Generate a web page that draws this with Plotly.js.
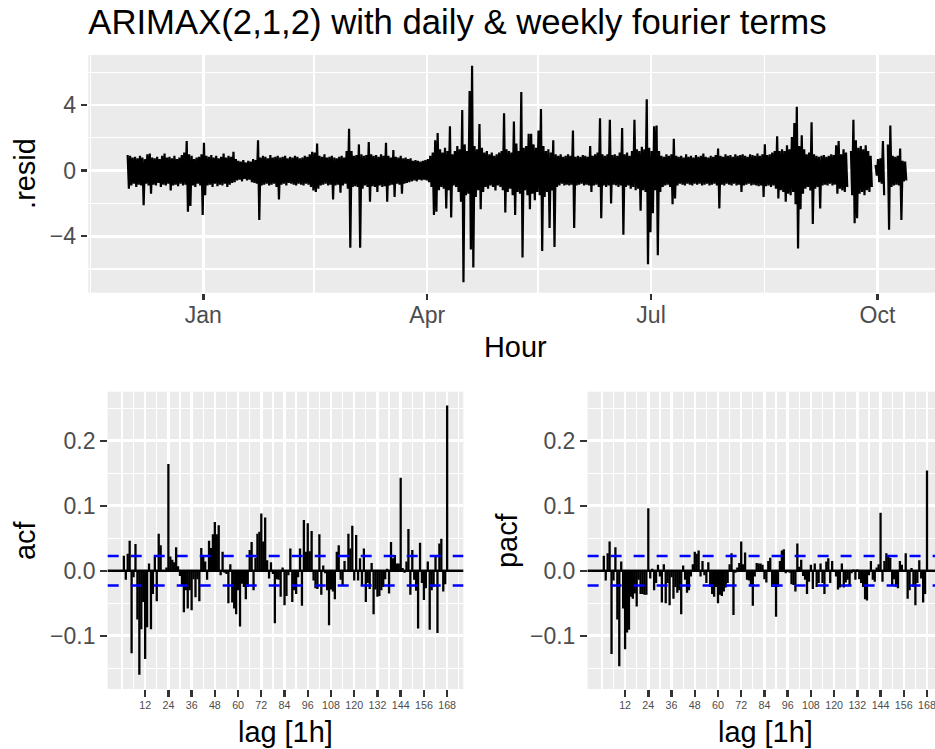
<!DOCTYPE html>
<html><head><meta charset="utf-8">
<script src="https://cdn.plot.ly/plotly-3.0.1.min.js"></script>
<style>html,body{margin:0;padding:0;background:#fff;} #chart{width:935px;height:749px;}</style>
</head><body><div id="chart"></div>
<script>
// ---------- DATA ----------
// Residuals: daily high / low envelope (hourly series), starting 2023-12-01
const residStart = [2023, 11, 1];
const decHigh = [0.95,0.9,0.8,0.85,0.75,0.9,0.8,0.7,1.0,1.05,0.8,0.75,0.85,0.7,0.9,1.05,0.8,0.85,0.75,0.9,0.7,0.8,0.95,1.1,1.8,1.0,0.9,0.7,0.8,0.85,1.0];
const decLow  = [-1.1,-0.9,-0.8,-1.0,-0.85,-0.9,-2.1,-0.8,-0.9,-1.4,-0.85,-0.9,-0.75,-1.0,-0.85,-0.9,-0.8,-1.2,-0.9,-0.85,-0.95,-0.8,-0.9,-0.85,-2.5,-2.15,-0.9,-1.0,-0.8,-0.9,-2.7];
const janHigh = [1.7,0.9,0.85,0.95,0.8,0.9,0.75,0.85,1.05,0.8,0.9,0.85,1.15,0.7,0.6,0.55,0.65,0.5,0.6,0.55,0.7,0.65,1.85,0.8,0.9,0.85,0.75,0.95,0.8,0.85,0.9];
const janLow  = [-1.5,-0.9,-0.85,-1.0,-0.8,-0.95,-0.85,-0.9,-0.8,-1.0,-0.85,-0.75,-0.7,-0.6,-0.55,-0.65,-0.5,-0.6,-0.55,-0.7,-0.75,-0.8,-3.0,-0.9,-0.85,-0.8,-0.9,-0.85,-0.8,-1.0,-1.75];
const febHigh = [0.8,0.85,0.9,0.75,0.85,0.8,0.9,0.85,0.75,0.8,0.9,0.85,1.0,1.15,1.1,1.65,0.9,0.85,1.0,0.8,0.85,0.9,0.8,0.75,0.85,0.9,0.8,1.2,2.55];
const febLow  = [-0.85,-0.8,-0.9,-0.75,-0.8,-0.85,-0.9,-0.8,-0.85,-0.9,-0.8,-0.85,-1.0,-1.2,-1.3,-1.1,-0.9,-0.85,-0.8,-0.9,-0.85,-1.75,-0.9,-0.85,-1.35,-0.9,-0.8,-1.1,-4.7];
const marHigh = [1.2,0.9,0.95,1.6,1.0,0.9,0.95,1.75,1.0,0.9,0.95,0.85,1.0,0.9,1.7,0.9,0.8,1.25,0.85,0.8,0.9,0.75,0.8,0.7,0.75,0.6,0.65,0.6,0.55,0.6,0.65];
const marLow  = [-1.0,-0.95,-1.0,-4.7,-1.1,-0.9,-1.0,-1.9,-0.95,-1.0,-1.3,-0.9,-1.0,-0.95,-1.9,-0.9,-0.85,-1.6,-0.8,-0.85,-1.4,-0.8,-0.75,-0.7,-0.65,-0.6,-0.65,-0.55,-0.6,-0.55,-0.6];
const aprHigh = [0.7,0.9,1.1,1.85,2.3,1.3,1.1,1.4,1.2,2.7,1.0,1.2,1.5,1.3,3.7,1.6,1.2,4.85,6.4,1.5,1.3,2.85,1.4,1.1,1.2,1.0,1.1,0.9,1.0,1.1];
const aprLow  = [-0.7,-1.0,-2.7,-2.5,-1.2,-1.0,-1.1,-2.3,-1.2,-2.85,-0.9,-1.0,-1.3,-1.9,-6.8,-1.5,-1.4,-4.8,-5.9,-1.6,-1.2,-2.35,-1.3,-1.0,-1.1,-0.9,-1.0,-1.2,-0.9,-1.0];
const mayHigh = [1.2,3.5,1.3,1.2,1.1,3.0,1.65,1.2,4.8,1.4,1.5,2.25,2.25,1.6,1.4,2.45,3.75,1.5,1.2,1.3,1.1,1.85,1.0,0.9,1.0,0.85,0.9,1.0,0.9,2.45,0.85];
const mayLow  = [-1.2,-2.55,-1.3,-1.1,-1.5,-2.7,-1.3,-1.4,-5.3,-1.2,-1.5,-2.35,-1.4,-1.8,-1.3,-1.5,-4.9,-1.6,-1.3,-3.5,-1.2,-4.65,-1.0,-0.9,-0.8,-0.9,-0.85,-0.9,-0.85,-3.5,-0.9];
const junHigh = [0.9,0.85,0.95,0.9,0.85,1.5,0.9,1.0,1.1,3.2,1.0,0.9,1.0,3.1,0.95,1.0,0.9,1.1,2.6,1.0,1.1,0.9,1.2,3.1,1.3,1.2,1.45,1.3,4.35,1.4];
const junLow  = [-0.85,-0.8,-0.9,-0.85,-0.9,-1.3,-0.9,-0.85,-1.0,-2.9,-0.9,-1.0,-0.9,-2.0,-0.85,-0.9,-1.0,-0.9,-3.9,-1.0,-0.9,-1.1,-1.0,-1.2,-1.1,-2.45,-1.2,-1.3,-5.7,-3.75];
const julHigh = [1.2,2.7,2.75,1.2,0.9,0.85,1.0,0.9,1.0,1.95,0.9,0.85,0.9,0.8,1.0,0.85,0.9,0.8,0.95,0.85,0.9,1.05,0.85,0.8,0.9,0.85,0.95,1.35,0.9,0.85,1.0];
const julLow  = [-2.6,-1.2,-5.15,-1.3,-1.0,-0.9,-0.85,-1.0,-2.05,-1.7,-0.9,-0.8,-0.85,-0.9,-0.8,-0.85,-0.9,-0.8,-0.85,-0.8,-0.9,-0.85,-0.8,-0.9,-0.85,-0.8,-0.9,-2.3,-0.85,-0.9,-0.8];
const augHigh = [0.9,0.95,0.85,1.0,0.9,0.95,1.0,0.9,0.85,1.0,0.95,0.9,1.05,0.9,1.0,1.6,0.95,1.0,1.1,1.2,2.1,1.2,1.3,1.2,1.55,1.3,2.05,2.9,3.9,1.5,2.15];
const augLow  = [-0.85,-0.9,-0.8,-0.9,-0.85,-1.3,-0.9,-0.85,-0.8,-0.9,-0.85,-0.9,-0.95,-0.9,-1.6,-0.95,-0.9,-1.0,-0.9,-1.1,-1.7,-1.2,-1.3,-1.9,-1.4,-1.5,-1.3,-2.05,-4.75,-2.35,-1.4];
const sepHigh = [1.3,1.0,1.1,2.95,1.0,0.9,0.85,0.9,0.95,0.85,0.9,1.0,0.95,1.55,1.8,1.0,1.3,1.1,null,1.2,3.1,1.85,1.4,1.5,1.3,1.55,1.2,0.9,null,0.35];
const sepLow  = [-1.1,-1.0,-1.2,-3.25,-1.1,-1.0,-2.3,-0.9,-0.85,-0.9,-0.8,-0.9,-0.85,-1.4,-1.1,-1.2,-1.3,-1.0,null,-1.5,-3.2,-2.9,-1.4,-1.3,-1.5,-1.2,-1.3,-1.0,null,-0.3];
const octHigh = [0.7,0.75,1.8,null,1.6,2.75,0.9,0.85,0.9,1.35,0.6,0.55];
const octLow  = [-0.7,-0.8,-1.5,null,-3.6,-1.0,-0.9,-0.85,-0.9,-3.0,-0.65,-0.6];

const residHigh = [].concat(decHigh, janHigh, febHigh, marHigh, aprHigh, mayHigh, junHigh, julHigh, augHigh, sepHigh, octHigh);
const residLow  = [].concat(decLow, janLow, febLow, marLow, aprLow, mayLow, junLow, julLow, augLow, sepLow, octLow);

const monthTickDates = ['2024-01-01', '2024-04-01', '2024-07-01', '2024-10-01'];
const monthTickLabels = ['Jan', 'Apr', 'Jul', 'Oct'];
const monthMinorDates = ['2023-11-16', '2024-02-15', '2024-05-16', '2024-08-16'];

const lags = Array.from({length: 168}, (_, i) => i + 1);
const acfValues = [
  0.023,-0.014,0.026,0.046,-0.127,-0.010,0.041,-0.075,-0.160,-0.090,-0.048,-0.136,
  -0.087,0.011,-0.090,-0.036,0.022,-0.047,0.057,0.039,-0.002,-0.002,0.005,0.164,
  0.022,0.017,0.013,0.036,0.007,-0.008,-0.024,-0.064,-0.030,-0.058,-0.030,-0.061,
  -0.013,-0.041,-0.013,-0.047,0.035,0.022,0.014,-0.014,0.046,0.035,0.056,0.075,
  0.056,0.070,-0.007,0.029,-0.003,-0.005,-0.050,0.010,-0.049,-0.058,-0.067,-0.030,
  -0.086,-0.020,-0.025,-0.044,-0.025,0.032,0.044,-0.030,0.020,0.057,0.060,0.088,
  0.045,0.082,0.016,-0.012,0.013,-0.005,-0.081,-0.013,-0.014,-0.040,0.005,-0.053,
  -0.039,-0.007,0.034,-0.048,-0.030,-0.036,-0.010,0.034,-0.054,0.078,0.029,0.073,
  0.030,0.061,-0.015,-0.027,-0.028,0.056,-0.037,0.008,-0.004,-0.030,-0.084,-0.029,
  -0.032,-0.044,0.029,0.039,-0.014,-0.022,0.015,0.001,0.057,0.034,0.069,-0.015,
  0.055,-0.015,0.019,-0.024,0.034,-0.048,-0.019,-0.028,0.012,-0.067,-0.029,-0.040,
  -0.039,-0.030,-0.025,-0.013,0.003,-0.035,0.044,0.019,0.024,0.011,0.011,0.143,
  0.004,-0.003,0.014,0.064,-0.037,0.032,-0.014,-0.031,-0.089,0.043,-0.019,-0.045,
  -0.027,0.014,-0.091,-0.030,-0.025,0.024,-0.096,0.042,0.049,-0.032,-0.021,0.254
];
const pacfValues = [
  0.023,-0.015,0.027,0.045,-0.128,-0.015,0.036,-0.075,-0.147,0.014,-0.058,-0.121,
  -0.095,-0.091,-0.040,-0.043,-0.035,-0.055,-0.014,-0.036,-0.036,-0.037,-0.037,0.096,
  -0.012,0.003,-0.030,-0.019,0.009,-0.009,-0.049,0.010,-0.050,-0.019,-0.053,-0.010,
  -0.043,-0.025,-0.034,-0.030,-0.067,0.008,-0.014,-0.034,-0.030,-0.009,0.010,0.029,
  0.026,0.031,-0.009,0.015,-0.007,-0.019,0.013,-0.025,-0.036,-0.040,-0.025,-0.050,
  -0.037,-0.039,-0.032,-0.026,-0.019,0.010,0.027,-0.068,-0.003,0.005,0.012,0.045,
  0.010,0.028,-0.014,-0.015,-0.024,-0.054,-0.009,0.012,0.011,0.011,0.009,-0.013,
  -0.018,0.015,0.020,-0.025,-0.025,-0.071,-0.025,0.015,0.031,0.033,-0.004,0.001,
  -0.003,-0.021,-0.022,-0.032,0.042,0.006,0.017,-0.008,-0.014,-0.036,-0.017,0.009,
  -0.028,0.011,-0.025,-0.019,0.011,-0.019,-0.036,0.014,0.019,-0.019,0.015,0.001,
  -0.009,-0.029,-0.026,0.011,-0.026,-0.018,-0.014,-0.022,-0.004,0.002,-0.014,0.002,
  -0.013,-0.019,-0.025,-0.044,-0.046,-0.007,0.015,-0.014,-0.017,0.005,0.010,0.089,
  -0.017,0.015,0.027,0.023,0.020,-0.022,-0.013,-0.025,-0.027,0.015,0.009,0.001,
  0.027,-0.043,-0.030,0.004,-0.025,-0.053,-0.019,0.016,-0.012,-0.049,-0.036,0.154
];
const ciBound = 0.0226;
const lagTicks = [12,24,36,48,60,72,84,96,108,120,132,144,156,168];
const lagMinor = [0,6,18,30,42,54,66,78,90,102,114,126,138,150,162,174];
const cfTickVals = [-0.1, 0, 0.1, 0.2];
const cfTickText = ['\u22120.1', '0.0', '0.1', '0.2'];
const cfMinor = [-0.15, -0.05, 0.05, 0.15, 0.25];
const residTickVals = [-4, 0, 4];
const residTickText = ['\u22124', '0', '4'];
const residMinor = [-6, -2, 2, 6];

// ---------- BUILD ----------
const W = 935, H = 749;
const FONT = 'Liberation Sans, Arial, Helvetica, sans-serif';
function stamp(i, hour) {
  const d = new Date(Date.UTC(residStart[0], residStart[1], residStart[2] + i, hour));
  return d.toISOString().slice(0, 19).replace('T', ' ');
}
const resX = [], resY = [];
for (let i = 0; i < residHigh.length; i++) {
  resX.push(stamp(i, 6), stamp(i, 18));
  resY.push(residHigh[i], residLow[i]);
}
function stems(vals) {
  const x = [], y = [];
  lags.forEach((l, i) => { x.push(l, l, null); y.push(0, vals[i], null); });
  return {x, y};
}
const acfS = stems(acfValues), pacfS = stems(pacfValues);

const traces = [
  {type: 'scatter', mode: 'lines', x: resX, y: resY, xaxis: 'x', yaxis: 'y',
   line: {color: '#000', width: 2.2}, connectgaps: false, hoverinfo: 'skip'},
  {type: 'scatter', mode: 'lines', x: acfS.x, y: acfS.y, xaxis: 'x2', yaxis: 'y2',
   line: {color: '#000', width: 2.3}, hoverinfo: 'skip'},
  {type: 'scatter', mode: 'lines', x: pacfS.x, y: pacfS.y, xaxis: 'x3', yaxis: 'y3',
   line: {color: '#000', width: 2.3}, hoverinfo: 'skip'}
];

const tickCommon = {
  ticks: 'outside', ticklen: 6.6, tickwidth: 2.4, tickcolor: '#333333',
  showline: false, zeroline: false, showgrid: true, gridcolor: '#FFFFFF', gridwidth: 2.5,
  tickfont: {family: FONT, size: 23, color: '#4D4D4D'}, fixedrange: true
};
const minorCommon = {tickmode: 'array', showgrid: true, gridcolor: '#FFFFFF', gridwidth: 1.3, ticks: ''};

const cfY = (anchor) => Object.assign({}, tickCommon, {
  domain: [1 - 689 / H, 1 - 391.7 / H], range: [-0.182, 0.2754], anchor: anchor,
  tickmode: 'array', tickvals: cfTickVals, ticktext: cfTickText,
  minor: Object.assign({tickvals: cfMinor}, minorCommon)
});
const cfX = (anchor, dom, rng) => Object.assign({}, tickCommon, {
  domain: dom, range: rng, anchor: anchor, ticklabeloverflow: 'allow',
  tickmode: 'array', tickvals: lagTicks, ticktext: lagTicks.map(String),
  tickfont: {family: FONT, size: 10.7, color: '#4D4D4D'},
  minor: Object.assign({tickvals: lagMinor}, minorCommon)
});

const hline = (xref, yref, y, color, dash) => ({
  type: 'line', xref: xref + ' domain', yref: yref, x0: 0, x1: 1, y0: y, y1: y,
  line: {color: color, width: dash ? 2.5 : 2.4, dash: dash || 'solid'}, layer: 'above'
});

const ann = (text, x, y, size, angle) => ({
  text: text, xref: 'paper', yref: 'paper', x: x / W, y: 1 - y / H, showarrow: false,
  xanchor: 'center', yanchor: 'middle', textangle: angle || 0,
  font: {family: FONT, size: size, color: '#000'}
});

const layout = {
  width: W, height: H, margin: {l: 0, r: 0, t: 0, b: 0},
  paper_bgcolor: '#FFFFFF', plot_bgcolor: '#EBEBEB', showlegend: false, hovermode: false,
  title: {text: 'ARIMAX(2,1,2) with daily &amp; weekly fourier terms',
          font: {family: FONT, size: 34.7, color: '#000'},
          x: 88.3 / W, xanchor: 'left', xref: 'container',
          y: 1 - 21.7 / H, yanchor: 'middle', yref: 'container'},
  xaxis: Object.assign({}, tickCommon, {
    type: 'date', domain: [88.3 / W, 1], range: ['2023-11-15 06:00', '2024-10-24 10:00'], anchor: 'y',
    tickmode: 'array', tickvals: monthTickDates, ticktext: monthTickLabels, ticklabelstandoff: -5,
    minor: Object.assign({tickvals: monthMinorDates}, minorCommon)
  }),
  yaxis: Object.assign({}, tickCommon, {
    domain: [1 - 292.7 / H, 1 - 55 / H], range: [-7.44, 7.05], anchor: 'x',
    tickmode: 'array', tickvals: residTickVals, ticktext: residTickText,
    minor: Object.assign({tickvals: residMinor}, minorCommon)
  }),
  xaxis2: cfX('y2', [107.7 / W, 463.3 / W], [-7.35, 176.35]),
  yaxis2: cfY('x2'),
  xaxis3: cfX('y3', [587.6 / W, 1], [-7.37, 172.13]),
  yaxis3: cfY('x3'),
  shapes: [
    hline('x2', 'y2', 0, '#000'),
    hline('x2', 'y2', ciBound, '#0000FF', '11px,12px'),
    hline('x2', 'y2', -ciBound, '#0000FF', '11px,12px'),
    hline('x3', 'y3', 0, '#000'),
    hline('x3', 'y3', ciBound, '#0000FF', '11px,12px'),
    hline('x3', 'y3', -ciBound, '#0000FF', '11px,12px')
  ],
  annotations: [
    ann('.resid', 25, 173.9, 28.9, -90),
    ann('Hour', 515.5, 347, 28.9),
    ann('acf', 25.6, 540.4, 28.9, -90),
    ann('pacf', 507.6, 540.4, 28.9, -90),
    ann('lag [1h]', 285.5, 731.5, 28.9),
    ann('lag [1h]', 765.2, 731.5, 28.9)
  ]
};

Plotly.newPlot('chart', traces, layout, {staticPlot: true, displayModeBar: false});
</script></body></html>
